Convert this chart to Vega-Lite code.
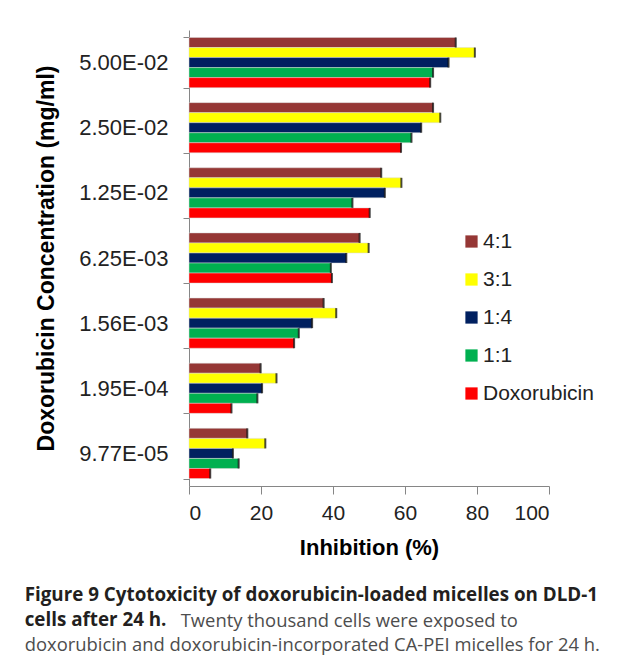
{
  "$schema": "https://vega.github.io/schema/vega-lite/v6.json",
  "width": 360,
  "height": 456,
  "padding": {"left": 24, "top": 19, "right": 0, "bottom": 0},
  "background": "white",
  "title": {
    "text": ["Figure 9 Cytotoxicity of doxorubicin-loaded micelles on DLD-1", "cells after 24 h."],
    "subtitle": ["\u2800\u2800\u2800\u2800\u2800\u2800\u2800\u2800\u2800\u2800\u2800\u2800Twenty thousand cells were exposed to", "doxorubicin and doxorubicin-incorporated CA-PEI micelles for 24 h."],
    "orient": "bottom",
    "anchor": "start",
    "frame": "bounds",
    "font": "Open Sans",
    "fontSize": 18.8,
    "fontWeight": "bold",
    "color": "#231f20",
    "lineHeight": 25,
    "subtitleFont": "Open Sans",
    "subtitleFontSize": 18.4,
    "subtitleFontWeight": "normal",
    "subtitleColor": "#4d4d4d",
    "subtitleLineHeight": 24,
    "subtitlePadding": -18,
    "offset": 28,
    "dx": -11
  },
  "data": {
    "values": [
      {"conc": "5.00E-02", "series": "4:1", "value": 74.1},
      {"conc": "5.00E-02", "series": "3:1", "value": 79.4},
      {"conc": "5.00E-02", "series": "1:4", "value": 72.1},
      {"conc": "5.00E-02", "series": "1:1", "value": 67.8},
      {"conc": "5.00E-02", "series": "Doxorubicin", "value": 67.0},
      {"conc": "2.50E-02", "series": "4:1", "value": 67.8},
      {"conc": "2.50E-02", "series": "3:1", "value": 69.8},
      {"conc": "2.50E-02", "series": "1:4", "value": 64.5},
      {"conc": "2.50E-02", "series": "1:1", "value": 61.8},
      {"conc": "2.50E-02", "series": "Doxorubicin", "value": 58.9},
      {"conc": "1.25E-02", "series": "4:1", "value": 53.4},
      {"conc": "1.25E-02", "series": "3:1", "value": 59.0},
      {"conc": "1.25E-02", "series": "1:4", "value": 54.4},
      {"conc": "1.25E-02", "series": "1:1", "value": 45.4},
      {"conc": "1.25E-02", "series": "Doxorubicin", "value": 50.2},
      {"conc": "6.25E-03", "series": "4:1", "value": 47.4},
      {"conc": "6.25E-03", "series": "3:1", "value": 49.9},
      {"conc": "6.25E-03", "series": "1:4", "value": 43.7},
      {"conc": "6.25E-03", "series": "1:1", "value": 39.4},
      {"conc": "6.25E-03", "series": "Doxorubicin", "value": 39.7},
      {"conc": "1.56E-03", "series": "4:1", "value": 37.4},
      {"conc": "1.56E-03", "series": "3:1", "value": 40.9},
      {"conc": "1.56E-03", "series": "1:4", "value": 34.2},
      {"conc": "1.56E-03", "series": "1:1", "value": 30.5},
      {"conc": "1.56E-03", "series": "Doxorubicin", "value": 29.2},
      {"conc": "1.95E-04", "series": "4:1", "value": 19.9},
      {"conc": "1.95E-04", "series": "3:1", "value": 24.3},
      {"conc": "1.95E-04", "series": "1:4", "value": 20.3},
      {"conc": "1.95E-04", "series": "1:1", "value": 19.0},
      {"conc": "1.95E-04", "series": "Doxorubicin", "value": 11.8},
      {"conc": "9.77E-05", "series": "4:1", "value": 16.2},
      {"conc": "9.77E-05", "series": "3:1", "value": 21.2},
      {"conc": "9.77E-05", "series": "1:4", "value": 12.2},
      {"conc": "9.77E-05", "series": "1:1", "value": 13.8},
      {"conc": "9.77E-05", "series": "Doxorubicin", "value": 5.9}
    ]
  },
  "encoding": {
    "y": {
      "field": "conc",
      "type": "nominal",
      "sort": ["5.00E-02", "2.50E-02", "1.25E-02", "6.25E-03", "1.56E-03", "1.95E-04", "9.77E-05"],
      "scale": {"paddingInner": 0.23, "paddingOuter": 0.115},
      "axis": {
        "title": "Doxorubicin Concentration (mg/ml)",
        "titleFont": "Liberation Sans",
        "titleFontSize": 23,
        "titleFontWeight": "bold",
        "titleColor": "#000000",
        "titlePadding": 20,
        "labelFont": "Liberation Sans",
        "labelFontSize": 22,
        "labelColor": "#222222",
        "labelPadding": 15,
        "tickBand": "extent",
        "tickSize": 6,
        "domainColor": "#868686",
        "tickColor": "#868686"
      }
    },
    "yOffset": {
      "field": "series",
      "type": "nominal",
      "sort": ["4:1", "3:1", "1:4", "1:1", "Doxorubicin"],
      "scale": {"paddingInner": 0, "paddingOuter": 0}
    },
    "x": {
      "field": "value",
      "type": "quantitative",
      "scale": {"domain": [0, 100], "nice": false},
      "axis": {
        "title": "Inhibition (%)",
        "values": [0, 20, 40, 60, 80, 100],
        "grid": false,
        "titleFont": "Liberation Sans",
        "titleFontSize": 22,
        "titleFontWeight": "bold",
        "titleColor": "#000000",
        "titlePadding": 14,
        "labelFont": "Liberation Sans",
        "labelFontSize": 21,
        "labelColor": "#222222",
        "labelPadding": 8,
        "tickSize": 8,
        "domainColor": "#868686",
        "tickColor": "#868686"
      }
    }
  },
  "layer": [
    {
      "mark": {"type": "bar", "stroke": "#d9d9d9", "strokeWidth": 0.5},
      "encoding": {
        "color": {
          "field": "series",
          "type": "nominal",
          "scale": {
            "domain": ["4:1", "3:1", "1:4", "1:1", "Doxorubicin"],
            "range": ["#953735", "#ffff00", "#002060", "#00b050", "#ff0000"]
          },
          "legend": {
            "title": null,
            "orient": "none",
            "legendX": 272,
            "legendY": 201,
            "symbolType": "square",
            "symbolSize": 150,
            "symbolStrokeWidth": 0,
            "labelFont": "Liberation Sans",
            "labelFontSize": 21,
            "labelColor": "#222222",
            "labelOffset": 1,
            "rowPadding": 16
          }
        }
      }
    },
    {
      "mark": {"type": "tick", "color": "#000000", "thickness": 2, "size": 10},
      "encoding": {}
    }
  ],
  "config": {
    "view": {"stroke": null}
  }
}
